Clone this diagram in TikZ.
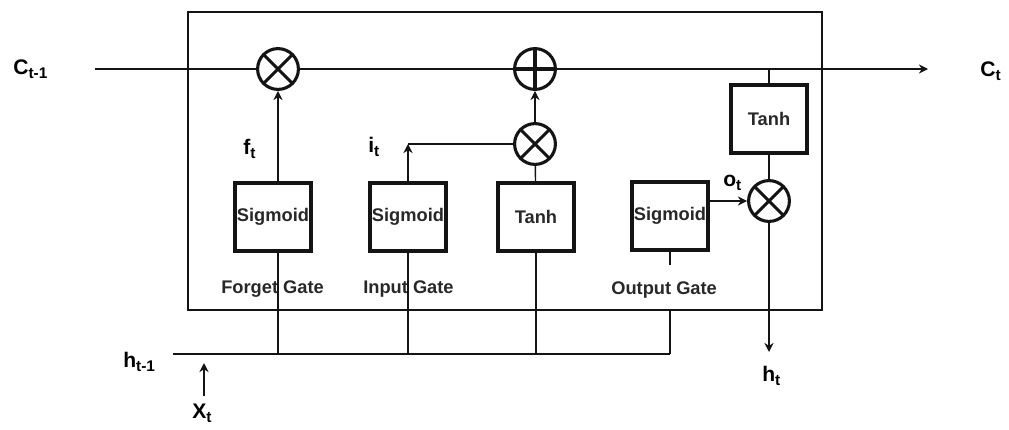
\documentclass[tikz,border=0pt]{standalone}
\usepackage{fontspec}
\setmainfont{Liberation Sans}
\usepackage{tikz}
\usetikzlibrary{arrows.meta, positioning, calc}
\definecolor{mydark}{RGB}{20,20,20}
\definecolor{mytext}{RGB}{40,40,40}
\newcommand{\lsub}[1]{\raisebox{-3.5pt}{\fontsize{11}{12}\selectfont #1}}
\tikzset{
  cellbox/.style={rectangle, draw=mydark, line width=1pt,
    minimum width=15.85cm, minimum height=7.45cm},
  gatebox/.style={rectangle, draw=mydark, line width=3pt,
    minimum width=1.9cm, minimum height=1.7cm, inner sep=0pt,
    font=\fontsize{13}{15}\selectfont\bfseries, text=mytext},
  mulnode/.style={circle, draw=mydark, line width=2.2pt,
    minimum size=1.02cm, inner sep=0pt,
    path picture={\draw[line width=2.2pt, color=mydark]
      (path picture bounding box.south west) -- (path picture bounding box.north east)
      (path picture bounding box.north west) -- (path picture bounding box.south east);}},
  addnode/.style={circle, draw=mydark, line width=2.2pt,
    minimum size=1.02cm, inner sep=0pt,
    path picture={\draw[line width=2.2pt, color=mydark]
      (path picture bounding box.north) -- (path picture bounding box.south)
      (path picture bounding box.west) -- (path picture bounding box.east);}},
  lbl/.style={anchor=base west, inner sep=0pt,
    font=\fontsize{15}{18}\selectfont\bfseries},
  gatelbl/.style={anchor=base west, inner sep=0pt,
    font=\fontsize{13}{15}\selectfont\bfseries, color=mytext},
  arrow/.style={-{Stealth[length=6.5pt, width=6.5pt]}, line width=1pt, color=mydark},
  line/.style={line width=1pt, color=mydark}
}

\begin{document}
\begin{tikzpicture}[x=0.025cm, y=-0.025cm]
  \useasboundingbox (0,0) rectangle (1009,429);
  % ── Cell and its operations ────────────────────────────────────────────────
  \node[cellbox] (cell) at (505,161) {};
  \node[mulnode] (fmul) at (278,69) {};
  \node[addnode] (addc) at (535,69) {};
  \node[mulnode] (imul) at (535,144) {};
  \node[mulnode] (omul) at (769,201) {};
  % Gate blocks
  \node[gatebox] (fsig) at (273,217) {Sigmoid};
  \node[gatebox] (isig) at (408,217) {Sigmoid};
  \node[gatebox] (ctanh) at (536,217) {Tanh};
  \node[gatebox] (osig) at (670,216) {Sigmoid};
  \node[gatebox] (htanh) at (769,119) {Tanh};
  % Gate names
  \node[gatelbl] (fname) at (221,293) {Forget Gate};
  \node[gatelbl] (iname) at (363,293) {Input Gate};
  \node[gatelbl] (oname) at (611,294) {Output Gate};
  % Signal labels
  \node[lbl] (clast) at (13,74) {C\lsub{t-1}};
  \node[lbl] (cnext) at (980,76) {C\lsub{t}};
  \node[lbl] (hlast) at (123,367) {h\lsub{t-1}};
  \node[lbl] (xin) at (192,418) {X\lsub{t}};
  \node[lbl] (hnext) at (762,381) {h\lsub{t}};
  \node[lbl] (fval) at (243,154) {f\lsub{t}};
  \node[lbl] (ival) at (368,152) {i\lsub{t}};
  \node[lbl] (oval) at (723,186) {o\lsub{t}};
  % Free ends
  \coordinate (cin) at (95,69);
  \coordinate (cout) at (928,69);
  \coordinate (hin) at (173,354);
  \coordinate (hend) at (670,354);
  \coordinate (hout) at (769,352);
  \coordinate (xtip) at (204,363);
  \coordinate (xfoot) at (204,396);
  \coordinate (icorner) at (isig |- imul);

  % ── Cell state line ────────────────────────────────────────────────────────
  \draw[line] (cin) -- (fmul);
  \draw[line] (fmul) -- (addc);
  \draw[arrow] (addc) -- (cout);
  \draw[line] (htanh) -- (htanh |- addc);
  % Forget and input paths
  \draw[arrow] (fmul |- fsig.north) -- (fmul);
  \draw[line] (imul) -- (icorner);
  \draw[arrow] (isig) -- (icorner);
  \draw[line] (ctanh) -- (imul);
  \draw[arrow] (imul) -- (addc);
  % Output path
  \draw[arrow] (osig.east |- omul) -- (omul);
  \draw[line] (htanh) -- (omul);
  \draw[arrow] (omul) -- (hout);
  \draw[line] (osig.south) -- ++(0,13);

  % ── Hidden state bus ───────────────────────────────────────────────────────
  \draw[line] (hin) -- (hend);
  \draw[line] (fmul |- fsig.south) -- (fmul |- hend);
  \draw[line] (isig.south) -- (isig |- hend);
  \draw[line] (ctanh.south) -- (ctanh |- hend);
  \draw[line] (osig |- cell.south) -- (hend);
  \draw[arrow] (xfoot) -- (xtip);
\end{tikzpicture}
\end{document}
